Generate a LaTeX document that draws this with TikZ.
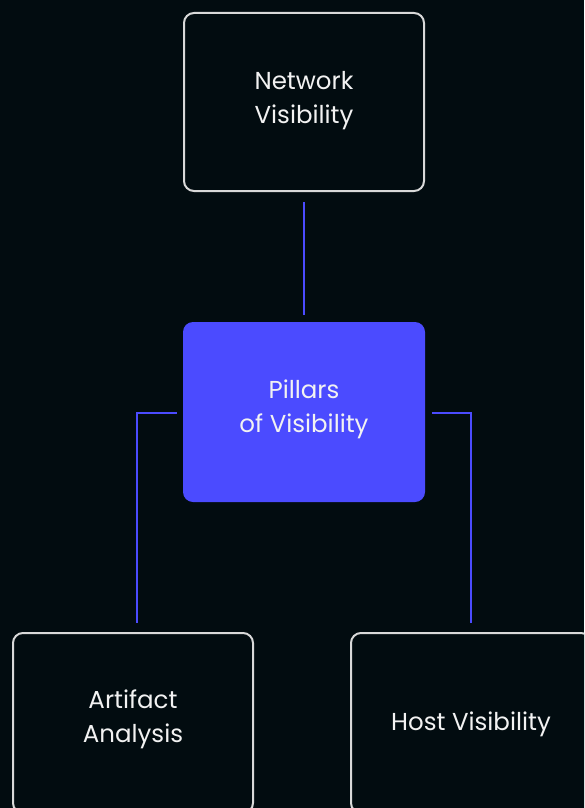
\documentclass[tikz,border=0pt]{standalone}
\usepackage{fontspec}
\setmainfont{Poppins}
\definecolor{bgc}{HTML}{020C10}
\definecolor{accent}{HTML}{4B4BFF}
\definecolor{edge}{HTML}{D9D9D9}
\definecolor{txt}{HTML}{F2F2F2}
\tikzset{
  outlinebox/.style={draw=edge, line width=2pt, fill=bgc, rounded corners=10pt, minimum width=240pt, minimum height=178pt, inner sep=0pt},
  hubbox/.style={fill=accent, rounded corners=10pt, minimum width=242pt, minimum height=180pt, inner sep=0pt},
  boxtext/.style={text=txt, font=\fontsize{24.5}{34}\selectfont, align=center, inner sep=0pt},
  conn/.style={draw=accent, line width=2pt}
}
\begin{document}
\begin{tikzpicture}[x=1pt,y=-1pt]
\fill[bgc] (0,0) rectangle (584,808);
\useasboundingbox (0,0) rectangle (584,808);
\clip (0,0) rectangle (584,808);
\node[outlinebox] (net) at (304,102) {};
\node[hubbox] (hub) at (304,412) {};
\node[outlinebox, minimum height=180pt] (art) at (133,723) {};
\node[outlinebox, minimum height=180pt] (host) at (471,723) {};
\node[boxtext] (nettext) at ([yshift=1.5pt]net.center) {Network\\Visibility};
\node[boxtext] (hubtext) at ([yshift=3pt]hub.center) {Pillars\\of Visibility};
\node[boxtext] (arttext) at ([yshift=4pt]art.center) {Artifact\\Analysis};
\node[boxtext] (hosttext) at ([yshift=-1.5pt]host.center) {Host Visibility};
\draw[conn, shorten <=10pt, shorten >=7pt] (net.south) -- (hub.north);
\draw[conn] ([xshift=-6pt,yshift=-1pt]hub.west) -| ([xshift=4pt,yshift=9pt]art.north);
\draw[conn] ([xshift=7pt,yshift=-1pt]hub.east) -| ([yshift=9pt]host.north);
\end{tikzpicture}
\end{document}
